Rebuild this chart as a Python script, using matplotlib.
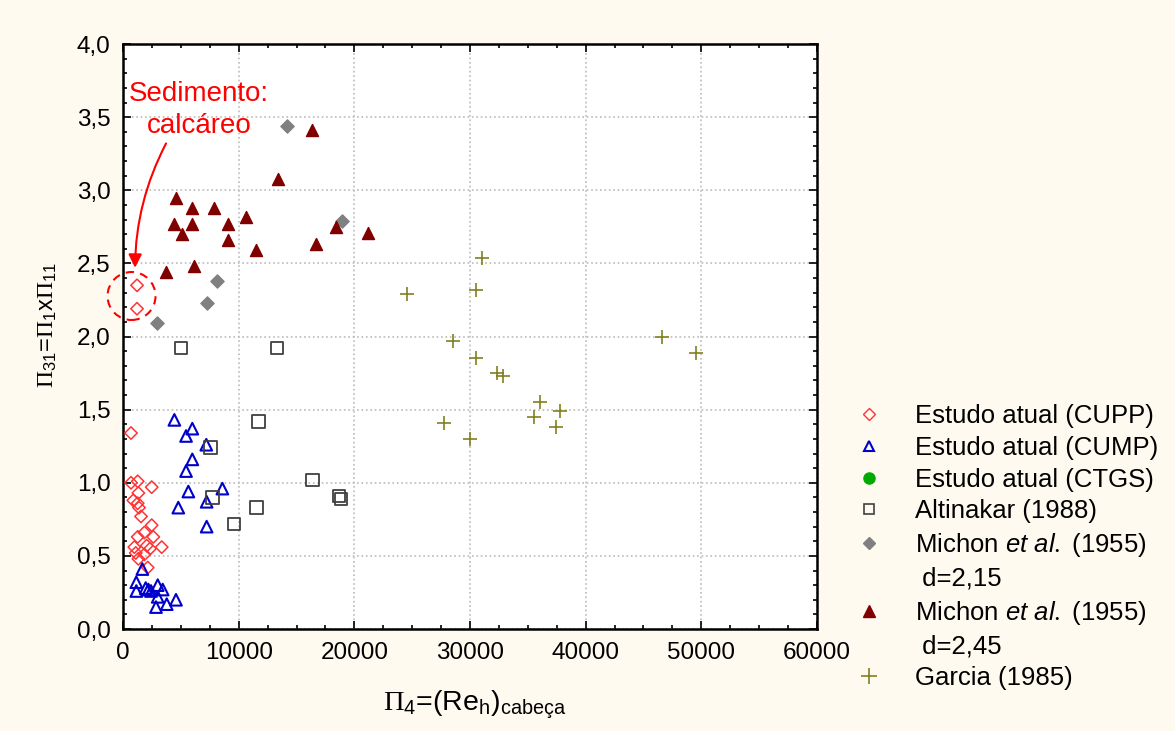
import matplotlib
matplotlib.use('Agg')
import matplotlib.pyplot as plt
from matplotlib.lines import Line2D
from matplotlib.patches import Ellipse
from matplotlib.ticker import MultipleLocator, FuncFormatter

plt.rcParams['font.family'] = ['Liberation Sans', 'DejaVu Sans']
plt.rcParams['mathtext.fontset'] = 'custom'
plt.rcParams['mathtext.rm'] = 'Liberation Serif'
plt.rcParams['mathtext.it'] = 'Liberation Sans:italic'
plt.rcParams['mathtext.sf'] = 'Liberation Sans'

# Estudo atual (CUPP)
cupp_x = [690, 690, 1270, 2480, 1325, 890, 1270, 1380, 1556, 2480, 1845, 2620, 1270,
          3346, 980, 2050, 2335, 1100, 1845, 1325, 2135, 1210, 1210]
cupp_y = [1.34, 1.00, 1.01, 0.97, 0.93, 0.88, 0.86, 0.83, 0.77, 0.71, 0.66, 0.63, 0.63,
          0.56, 0.56, 0.57, 0.55, 0.52, 0.51, 0.48, 0.42, 2.35, 2.19]

# Estudo atual (CUMP)
cump_x = [4440, 5990, 5450, 7200, 5990, 5450, 8590, 5650, 7230, 4780, 7230,
          1670, 1150, 1150, 2190, 3000, 3430, 2420, 3000, 3780, 2850, 4580, 1960]
cump_y = [1.43, 1.37, 1.32, 1.26, 1.16, 1.08, 0.96, 0.94, 0.87, 0.83, 0.70,
          0.41, 0.32, 0.26, 0.27, 0.30, 0.27, 0.26, 0.22, 0.17, 0.15, 0.20, 0.28]

# Estudo atual (CTGS) - sem pontos no grafico
ctgs_x = []
ctgs_y = []

# Altinakar (1988)
alt_x = [11700, 7580, 16370, 7720, 11530, 9620, 5010, 13310, 18675, 18850]
alt_y = [1.42, 1.24, 1.02, 0.90, 0.83, 0.72, 1.92, 1.92, 0.91, 0.89]

# Michon et al. (1955) d=2,15
m215_x = [14180, 18910, 8150, 7290, 2940]
m215_y = [3.44, 2.79, 2.38, 2.23, 2.09]

# Michon et al. (1955) d=2,45
m245_x = [16370, 13370, 4580, 5990, 7890, 10660, 4440, 5990, 9100, 18420, 21210,
          5130, 9100, 11530, 16690, 6140, 3720]
m245_y = [3.41, 3.08, 2.95, 2.88, 2.88, 2.82, 2.77, 2.77, 2.77, 2.75, 2.71,
          2.70, 2.66, 2.59, 2.63, 2.48, 2.44]

# Garcia (1985)
gar_x = [31010, 24580, 30520, 28560, 30520, 32310, 32880, 46580, 49520,
         36050, 37780, 35560, 37440, 27780, 30000]
gar_y = [2.54, 2.29, 2.32, 1.97, 1.85, 1.75, 1.73, 2.00, 1.89,
         1.55, 1.49, 1.45, 1.38, 1.41, 1.30]

fig = plt.figure(figsize=(11.75, 7.31), dpi=100, facecolor='#fffaf0')
ax = fig.add_axes([0.1047, 0.1395, 0.5906, 0.8003])
ax.set_facecolor('white')

ax.scatter(cupp_x, cupp_y, marker='D', s=40, facecolors='none', edgecolors='#ff3333', linewidths=1.1, zorder=3)
ax.scatter(cump_x, cump_y, marker='^', s=70, facecolors='none', edgecolors='#0000cc', linewidths=1.5, zorder=3)
ax.scatter(ctgs_x, ctgs_y, marker='o', s=50, color='#00aa00', zorder=3)
ax.scatter(alt_x, alt_y, marker='s', s=80, facecolors='none', edgecolors='#404040', linewidths=1.3, zorder=3)
ax.scatter(m215_x, m215_y, marker='D', s=45, color='#808080', zorder=3)
ax.scatter(m245_x, m245_y, marker='^', s=75, color='#800000', zorder=3)
ax.scatter(gar_x, gar_y, marker='+', s=110, color='#808020', linewidths=1.2, zorder=3)

ax.set_xlim(0, 60000)
ax.set_ylim(0, 4.0)
ax.xaxis.set_major_locator(MultipleLocator(10000))
ax.xaxis.set_minor_locator(MultipleLocator(2500))
ax.yaxis.set_major_locator(MultipleLocator(0.5))
ax.yaxis.set_minor_locator(MultipleLocator(0.1))
ax.yaxis.set_major_formatter(FuncFormatter(lambda v, p: f'{v:.1f}'.replace('.', ',')))
ax.tick_params(which='both', direction='in', top=True, right=True, labelsize=17.5, width=1.2)
ax.tick_params(which='major', length=6, pad=9)
ax.tick_params(which='minor', length=3)
for s in ax.spines.values():
    s.set_linewidth(1.8)
ax.grid(True, which='major', linestyle=':', color='#bbbbbb', linewidth=1.2)
ax.set_axisbelow(True)

fig.text(475 / 1175, 1 - 705 / 731, r'$\Pi_{\mathsf{4}}$=(Re$_{\mathsf{h}}$)$_{\mathsf{cabeça}}$',
         fontsize=20.5, ha='center', va='center')
fig.text(48 / 1175, 1 - 325 / 731, r'$\Pi_{\mathsf{31}}$=$\Pi_{\mathsf{1}}$x$\Pi_{\mathsf{11}}$',
         fontsize=17, ha='center', va='center', rotation=90)

# anotacao: sedimento calcareo
ax.add_patch(Ellipse((735, 2.277), width=4150, height=0.328, fill=False, edgecolor='red',
                     linestyle=(0, (4, 3)), linewidth=1.5, zorder=4, clip_on=False))
ax.text(6570, 3.66, 'Sedimento:', color='red', fontsize=20, ha='center', va='center')
ax.text(6570, 3.44, 'calcáreo', color='red', fontsize=20, ha='center', va='center')
ax.annotate('', xy=(1040, 2.47), xytext=(3720, 3.32),
            arrowprops=dict(arrowstyle='-|>', color='red', lw=1.5, mutation_scale=20,
                            connectionstyle='arc3,rad=0.12', shrinkA=0, shrinkB=0))

handles = [
    Line2D([], [], linestyle='none', marker='D', markersize=6, markerfacecolor='none', markeredgecolor='#ff3333'),
    Line2D([], [], linestyle='none', marker='^', markersize=7, markerfacecolor='none', markeredgecolor='#0000cc', markeredgewidth=1.5),
    Line2D([], [], linestyle='none', marker='o', markersize=8, color='#00aa00'),
    Line2D([], [], linestyle='none', marker='s', markersize=7, markerfacecolor='none', markeredgecolor='#404040', markeredgewidth=1.2),
    Line2D([], [], linestyle='none', marker='D', markersize=6, color='#808080'),
    Line2D([], [], linestyle='none'),
    Line2D([], [], linestyle='none', marker='^', markersize=8, color='#800000'),
    Line2D([], [], linestyle='none'),
    Line2D([], [], linestyle='none', marker='+', markersize=12, color='#808020', markeredgewidth=1.2),
]
labels = [
    'Estudo atual (CUPP)',
    'Estudo atual (CUMP)',
    'Estudo atual (CTGS)',
    'Altinakar (1988)',
    r'Michon $\mathit{et\ al.}$ (1955)',
    ' d=2,15',
    r'Michon $\mathit{et\ al.}$ (1955)',
    ' d=2,45',
    'Garcia (1985)',
]
fig.legend(handles, labels, loc='upper left', bbox_to_anchor=(0.709, 0.4786), frameon=False,
           fontsize=18.5, handlelength=1.0, handletextpad=1.28, labelspacing=0.3, borderpad=0.4)

fig.savefig('out.png', dpi=100, facecolor=fig.get_facecolor())
